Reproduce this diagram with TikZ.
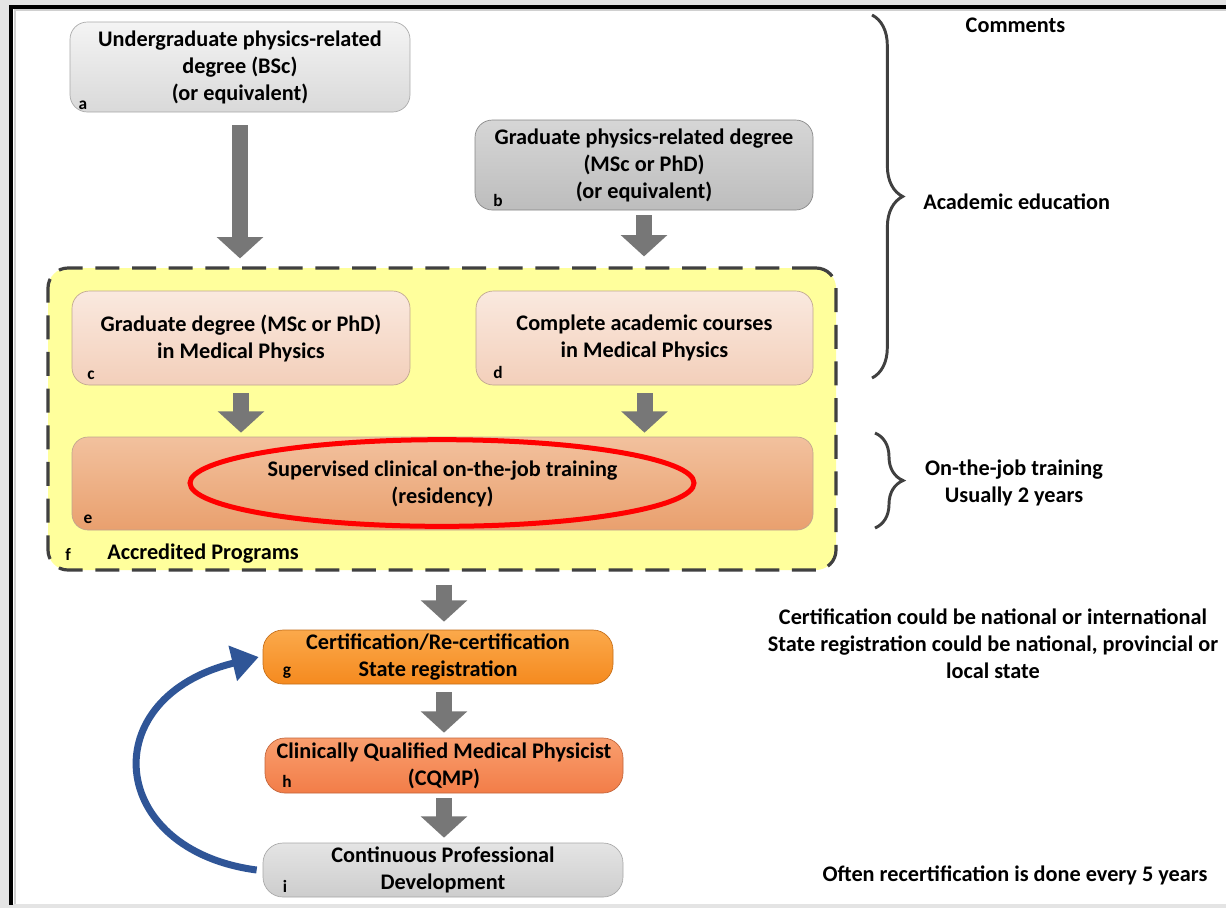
\documentclass[tikz,border=0pt]{standalone}
\usepackage{fontspec}
\setmainfont{Carlito}
\usetikzlibrary{arrows.meta,calc,decorations.pathreplacing,shapes.geometric}
\definecolor{bggray}{HTML}{E4E4E4}
\definecolor{frameshadow}{HTML}{D0D0D0}
\definecolor{aTop}{HTML}{F4F4F4}
\definecolor{aBot}{HTML}{D9D9D9}
\definecolor{bTop}{HTML}{D6D6D6}
\definecolor{bBot}{HTML}{BDBDBD}
\definecolor{cTop}{HTML}{FAE9DF}
\definecolor{cBot}{HTML}{F3CFBA}
\definecolor{eTop}{HTML}{F2C19E}
\definecolor{eBot}{HTML}{E9A06E}
\definecolor{gTop}{HTML}{FBA94B}
\definecolor{gBot}{HTML}{F58A1F}
\definecolor{hTop}{HTML}{F99E6E}
\definecolor{hBot}{HTML}{F27D48}
\definecolor{iTop}{HTML}{E4E4E4}
\definecolor{iBot}{HTML}{CDCDCD}
\definecolor{yellowf}{HTML}{FFFF9C}
\definecolor{dashgray}{HTML}{404040}
\definecolor{arrowgray}{HTML}{777777}
\definecolor{bluearr}{HTML}{2F5597}
\definecolor{boxline}{HTML}{A8A8A8}
\definecolor{peachline}{HTML}{BFA58F}
\definecolor{bracegray}{HTML}{404040}
\begin{document}
\begin{tikzpicture}[x=0.75pt,y=-0.75pt,
  font=\fontsize{16.7}{20.25}\selectfont\bfseries,
  box/.style={draw=boxline, line width=0.5pt, rounded corners=13pt, align=center, inner sep=0pt},
  pill/.style={box, rounded corners=15pt},
  lbl/.style={font=\fontsize{13}{15}\selectfont\bfseries, anchor=base, inner sep=0pt},
  region/.style={fill=yellowf, draw=dashgray, line width=2.4pt, dash pattern=on 18pt off 9.5pt, rounded corners=15pt, inner sep=0pt},
  bigarrow/.style={draw=arrowgray, line width=12pt, -{Triangle[length=16pt,width=34pt]}},
  bluearrow/.style={draw=bluearr, line width=5.25pt, -{Triangle[length=20pt,width=26pt]}},
  bracestyle/.style={draw=bracegray, line width=2.2pt, decorate},
  note/.style={align=center, inner sep=0pt}
]
\useasboundingbox (0,0) rectangle (1226,908);
% frame
\fill[bggray] (0,0) rectangle (1226,908);
\fill[white] (13,8) rectangle (1226,904);
\draw[frameshadow, line width=1.2pt] (15,904) -- (15,10) -- (1226,10);
\fill[black] (9,5) rectangle (1226,8.8);
\fill[black] (9,5) rectangle (13,905);

% top boxes
\node[box, top color=aTop, bottom color=aBot, minimum width=255pt, minimum height=67.5pt] (a) at (240,67)
  {Undergraduate physics-related\\degree (BSc)\\(or equivalent)};
\node[lbl] (la) at (83,109) {a};
\node[box, draw=boxline!80!black, top color=bTop, bottom color=bBot, minimum width=253.5pt, minimum height=67.5pt] (b) at (644,165)
  {Graduate physics-related degree\\(MSc or PhD)\\(or equivalent)};
\node[lbl] (lb) at (498,206) {b};

% accredited region
\node[region, minimum width=591pt, minimum height=226.5pt] (f) at (442,419) {};
\node[lbl] (lf) at (68,560) {f};
\node[anchor=base west, inner sep=0pt] (acc) at (107,559) {Accredited Programs};

\node[box, draw=peachline, top color=cTop, bottom color=cBot, minimum width=253.5pt, minimum height=70.5pt] (c) at (241,338)
  {Graduate degree (MSc or PhD)\\in Medical Physics};
\node[lbl] (lc) at (91,379) {c};
\node[box, draw=peachline, top color=cTop, bottom color=cBot, minimum width=252.75pt, minimum height=70.5pt] (d) at (644.5,338)
  {Complete academic courses\\in Medical Physics};
\node[lbl] (ld) at (498,378) {d};
\node[box, draw=peachline, top color=eTop, bottom color=eBot, minimum width=555.75pt, minimum height=69.75pt, rounded corners=12pt] (e) at (442.5,483.5)
  {Supervised clinical on-the-job training\\(residency)};
\node[lbl] (le) at (88,523) {e};
\node[draw=red, line width=3.75pt, ellipse, minimum width=378pt, minimum height=65pt, inner sep=0pt] (hl) at (442,483) {};

% lower chain
\node[pill, draw=gBot!80!black, top color=gTop, bottom color=gBot, minimum width=262.5pt, minimum height=40.5pt] (g) at (438,657)
  {Certification/Re-certification\\State registration};
\node[lbl] (lg) at (287,675) {g};
\node[pill, draw=hBot!80!black, top color=hTop, bottom color=hBot, minimum width=268.5pt, minimum height=41.25pt] (h) at (444,765.5)
  {Clinically Qualified Medical Physicist\\(CQMP)};
\node[lbl] (lh) at (287,787) {h};
\node[pill, draw=boxline, top color=iTop, bottom color=iBot, minimum width=270pt, minimum height=40.5pt] (i) at (443,870)
  {Continuous Professional\\Development};
\node[lbl] (li) at (285,892) {i};

% gray block arrows
\draw[bigarrow] ($(a.south)+(0,13)$) -- ($(a.south |- f.north)+(0,-8)$);
\draw[bigarrow] ($(b.south)+(0,5)$) -- ($(b.south |- f.north)+(0,-10)$);
\draw[bigarrow] ($(c.south)+(0,8)$) -- ($(c.south |- e.north)+(0,-4)$);
\draw[bigarrow] ($(d.south)+(0,8)$) -- ($(d.south |- e.north)+(0,-4)$);
\draw[bigarrow] ($(f.south -| h.north)+(0,13)$) -- ($(h.north |- g.north)+(0,-8)$);
\draw[bigarrow] ($(g.south -| h.north)+(0,8)$) -- ($(h.north)+(0,-5)$);
\draw[bigarrow] ($(h.south)+(0,5)$) -- ($(i.north -| h.south)+(0,-5)$);

% blue feedback arrow
\draw[bluearrow] ($(i.west)+(-6,0)$) .. controls +(-150,-20) and +(-165,40) .. ($(g.west)+(-4,0)$);

% braces and comments
\coordinate (br1s) at (872,15);
\coordinate (br1e) at (872,378);
\draw[bracestyle, decoration={brace, amplitude=23pt}] (br1s) -- (br1e);
\coordinate (br2s) at (875,433);
\coordinate (br2e) at (875,528);
\draw[bracestyle, decoration={brace, amplitude=21pt}] (br2s) -- (br2e);

\node[note] (comments) at (1015.5,25) {Comments};
\node[note, anchor=west] (acad) at (923,202) {Academic education};
\node[note] (ojt) at (1014,483) {On-the-job training\\Usually 2 years};
\node[note] (cert) at (993,644) {Certification could be national or international\\State registration could be national, provincial or\\local state};
\node[note] (often) at (1015,875) {Often recertification is done every 5 years};
\end{tikzpicture}
\end{document}
